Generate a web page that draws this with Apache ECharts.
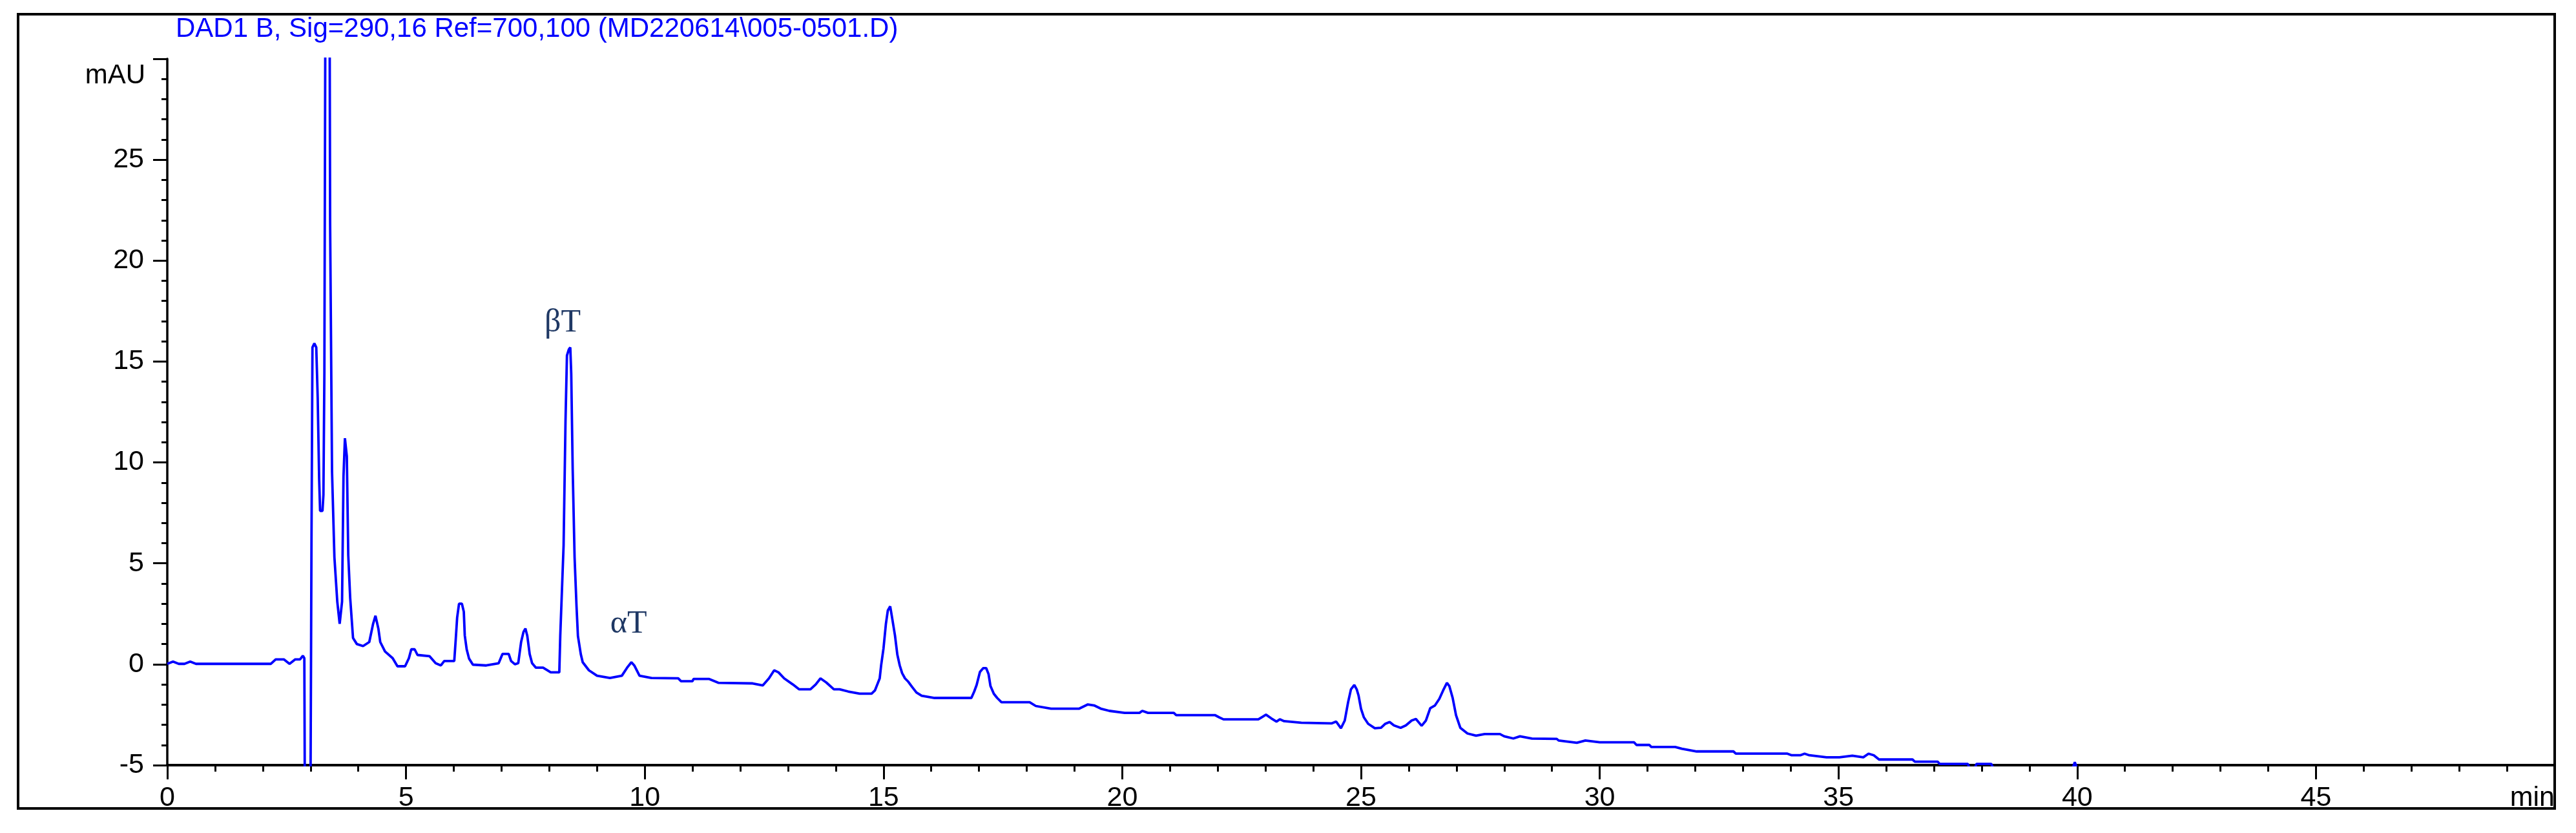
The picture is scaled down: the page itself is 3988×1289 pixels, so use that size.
<!DOCTYPE html>
<html>
<head>
<meta charset="utf-8">
<title>DAD1 B chromatogram</title>
<script src="https://cdn.jsdelivr.net/npm/echarts@6/dist/echarts.min.js"></script>
<style>
  html, body { margin: 0; padding: 0; background: #fff; }
  #chart { width: 3988px; height: 1289px; }
</style>
</head>
<body>
<div id="chart"></div>
<script>
// retention time (min) and signal (mAU)
const time = [
  0.00, 0.12, 0.24, 0.36, 0.48, 0.60, 1.00, 1.50, 2.17, 2.27, 2.44, 2.56, 2.68, 2.78, 2.84, 2.87,
  2.88, 3.00, 3.02, 3.04, 3.08, 3.12, 3.15, 3.18, 3.20, 3.25, 3.27, 3.29, 3.31, 3.40, 3.41, 3.45,
  3.50, 3.56, 3.61, 3.66, 3.69, 3.72, 3.76, 3.79, 3.83, 3.89, 3.97, 4.10, 4.23, 4.31, 4.36, 4.42,
  4.46, 4.56, 4.72, 4.82, 4.98, 5.06, 5.11, 5.18, 5.24, 5.49, 5.62, 5.73, 5.80, 6.01, 6.04, 6.07,
  6.11, 6.17, 6.21, 6.23, 6.27, 6.32, 6.40, 6.68, 6.94, 7.02, 7.15, 7.20, 7.28, 7.35, 7.41, 7.46,
  7.50, 7.54, 7.59, 7.64, 7.72, 7.87, 8.03, 8.21, 8.23, 8.30, 8.34, 8.37, 8.41, 8.44, 8.46, 8.49,
  8.53, 8.57, 8.60, 8.66, 8.70, 8.83, 9.00, 9.27, 9.52, 9.63, 9.72, 9.78, 9.89, 10.14, 10.70, 10.76,
  11.00, 11.02, 11.35, 11.54, 12.26, 12.47, 12.60, 12.71, 12.80, 12.92, 13.10, 13.23, 13.47, 13.58, 13.68, 13.80,
  13.96, 14.08, 14.26, 14.50, 14.75, 14.82, 14.87, 14.92, 14.95, 15.00, 15.05, 15.09, 15.14, 15.18, 15.24, 15.29,
  15.34, 15.39, 15.45, 15.52, 15.60, 15.69, 15.80, 16.07, 16.84, 16.90, 16.95, 17.02, 17.09, 17.15, 17.20, 17.24,
  17.31, 17.38, 17.47, 18.06, 18.19, 18.51, 19.10, 19.28, 19.41, 19.55, 19.73, 20.05, 20.36, 20.42, 20.54, 21.08,
  21.13, 21.94, 22.03, 22.12, 22.85, 22.94, 23.01, 23.12, 23.23, 23.30, 23.39, 23.75, 24.39, 24.48, 24.58, 24.66,
  24.73, 24.79, 24.86, 24.91, 24.95, 25.00, 25.06, 25.15, 25.29, 25.42, 25.51, 25.60, 25.69, 25.83, 25.94, 26.06,
  26.15, 26.27, 26.36, 26.45, 26.55, 26.64, 26.72, 26.80, 26.85, 26.92, 26.99, 27.08, 27.23, 27.41, 27.59, 27.91,
  28.00, 28.19, 28.33, 28.58, 29.10, 29.14, 29.52, 29.70, 30.00, 30.72, 30.77, 31.04, 31.08, 31.58, 31.72, 32.03,
  32.80, 32.85, 33.93, 34.02, 34.20, 34.29, 34.39, 34.75, 35.02, 35.29, 35.52, 35.63, 35.74, 35.85, 36.55, 36.60,
  37.08, 37.12, 37.71, 37.75, 37.85, 37.89, 38.20, 38.25, 39.90, 39.95, 40.00, 45.00, 50.00
];
const mau = [
  0.02, 0.13, 0.02, 0.02, 0.13, 0.02, 0.02, 0.02, 0.02, 0.24, 0.24, 0.02, 0.24, 0.24, 0.42, 0.30,
  -6.0, -6.0, 6.2, 15.7, 15.9, 15.7, 13.2, 9.2, 7.6, 7.6, 8.4, 14.5, 32.0, 32.0, 21.9, 9.55,
  5.3, 3.1, 2.0, 3.1, 9.3, 11.2, 10.3, 5.4, 3.3, 1.3, 1.0, 0.9, 1.1, 2.0, 2.4, 1.77,
  1.1, 0.63, 0.3, -0.1, -0.1, 0.3, 0.74, 0.74, 0.46, 0.4, 0.05, -0.06, 0.16, 0.16, 1.2, 2.3,
  3.0, 3.0, 2.6, 1.43, 0.74, 0.28, -0.02, -0.06, 0.05, 0.51, 0.51, 0.16, 0.0, 0.05, 1.1, 1.6,
  1.77, 1.4, 0.5, 0.05, -0.17, -0.17, -0.4, -0.4, 1.4, 5.9, 12.07, 15.3, 15.6, 15.7, 14.4, 9.7,
  5.3, 2.9, 1.4, 0.5, 0.1, -0.3, -0.57, -0.68, -0.57, -0.17, 0.1, -0.06, -0.57, -0.68, -0.7, -0.84,
  -0.84, -0.73, -0.73, -0.92, -0.95, -1.05, -0.7, -0.3, -0.4, -0.7, -1.0, -1.24, -1.24, -1.0, -0.7, -0.9,
  -1.24, -1.24, -1.35, -1.46, -1.46, -1.3, -1.0, -0.7, -0.06, 0.79, 2.0, 2.66, 2.87, 2.3, 1.43, 0.47,
  -0.06, -0.44, -0.7, -0.87, -1.13, -1.4, -1.56, -1.67, -1.67, -1.35, -1.03, -0.38, -0.19, -0.19, -0.49, -1.08,
  -1.46, -1.67, -1.88, -1.88, -2.07, -2.2, -2.2, -1.99, -2.04, -2.2, -2.31, -2.41, -2.41, -2.31, -2.41, -2.41,
  -2.52, -2.52, -2.63, -2.73, -2.73, -2.6, -2.5, -2.68, -2.84, -2.73, -2.82, -2.9, -2.93, -2.84, -3.17, -2.79,
  -1.88, -1.24, -1.03, -1.24, -1.56, -2.2, -2.63, -2.95, -3.17, -3.15, -2.95, -2.86, -3.03, -3.15, -3.03, -2.79,
  -2.71, -3.05, -2.79, -2.18, -2.04, -1.72, -1.3, -0.92, -1.08, -1.67, -2.52, -3.15, -3.43, -3.54, -3.46, -3.46,
  -3.57, -3.68, -3.57, -3.68, -3.7, -3.78, -3.89, -3.78, -3.87, -3.87, -4.0, -4.0, -4.1, -4.1, -4.19, -4.32,
  -4.32, -4.43, -4.43, -4.51, -4.51, -4.43, -4.51, -4.61, -4.61, -4.53, -4.61, -4.43, -4.51, -4.72, -4.72, -4.83,
  -4.83, -4.94, -4.94, -5.2, -5.2, -4.94, -4.94, -5.2, -5.2, -4.85, -5.2, -5.3, -5.3
];

// peak annotations
const peakNames = ['βT', 'αT'];
const peakTimes = [8.28, 9.66];
const peakLevels = [16.9, 2.0];

// axis ticks
const xTicks = [0, 5, 10, 15, 20, 25, 30, 35, 40, 45, 50];
const yTicks = [-5, 0, 5, 10, 15, 20, 25, 30];

const chart = echarts.init(document.getElementById('chart'), null, { renderer: 'canvas' });

const labelFont = 'Liberation Sans, Arial, sans-serif';

const option = {
  animation: false,
  backgroundColor: '#fff',
  title: {
    text: 'DAD1 B, Sig=290,16 Ref=700,100 (MD220614\\005-0501.D)',
    left: 272,
    top: 24,
    padding: 0,
    textStyle: {
      color: '#0000ff',
      fontFamily: labelFont,
      fontSize: 42,
      fontWeight: 'normal'
    }
  },
  grid: {
    left: 259,
    right: 33,
    top: 91,
    bottom: 105,
    containLabel: false
  },
  xAxis: {
    type: 'value',
    min: xTicks[0],
    max: xTicks[xTicks.length - 1],
    interval: 5,
    axisLine: { show: true, onZero: false, lineStyle: { color: '#000', width: 4 } },
    axisTick: { show: true, length: 22, lineStyle: { color: '#000', width: 3 } },
    minorTick: { show: true, splitNumber: 5, length: 10, lineStyle: { color: '#000', width: 3 } },
    splitLine: { show: false },
    axisLabel: {
      color: '#000',
      fontFamily: labelFont,
      fontSize: 43,
      margin: 30,
      alignMaxLabel: 'right',
      formatter: v => (v === 50 ? 'min' : String(v))
    }
  },
  yAxis: {
    type: 'value',
    min: yTicks[0],
    max: yTicks[yTicks.length - 1],
    interval: 5,
    axisLine: { show: true, onZero: false, lineStyle: { color: '#000', width: 3.5 } },
    axisTick: { show: true, length: 22, lineStyle: { color: '#000', width: 3 } },
    minorTick: { show: true, splitNumber: 5, length: 9, lineStyle: { color: '#000', width: 3 } },
    splitLine: { show: false },
    axisLabel: {
      color: '#000',
      fontFamily: labelFont,
      fontSize: 43,
      margin: 36,
      showMaxLabel: false
    }
  },
  graphic: [
    {
      type: 'rect',
      shape: { x: 28, y: 22, width: 3927, height: 1229 },
      style: { fill: 'none', stroke: '#000', lineWidth: 4 },
      silent: true
    },
    {
      type: 'text',
      x: 225,
      y: 117,
      style: {
        text: 'mAU',
        fill: '#000',
        font: '42px Liberation Sans, Arial, sans-serif',
        align: 'right',
        verticalAlign: 'middle'
      },
      silent: true
    }
  ],
  series: [
    {
      type: 'line',
      data: time.map((t, i) => [t, mau[i]]),
      showSymbol: false,
      clip: true,
      lineStyle: { color: '#0000ff', width: 3.8 },
      itemStyle: { color: '#0000ff' },
      markPoint: {
        symbol: 'circle',
        symbolSize: 0,
        silent: true,
        label: {
          show: true,
          position: 'inside',
          color: '#1f3864',
          fontFamily: 'Liberation Serif, DejaVu Serif, serif',
          fontSize: 50,
          formatter: p => p.name
        },
        data: peakNames.map((n, i) => ({ name: n, coord: [peakTimes[i], peakLevels[i]] }))
      }
    }
  ]
};

chart.setOption(option);
</script>
</body>
</html>
